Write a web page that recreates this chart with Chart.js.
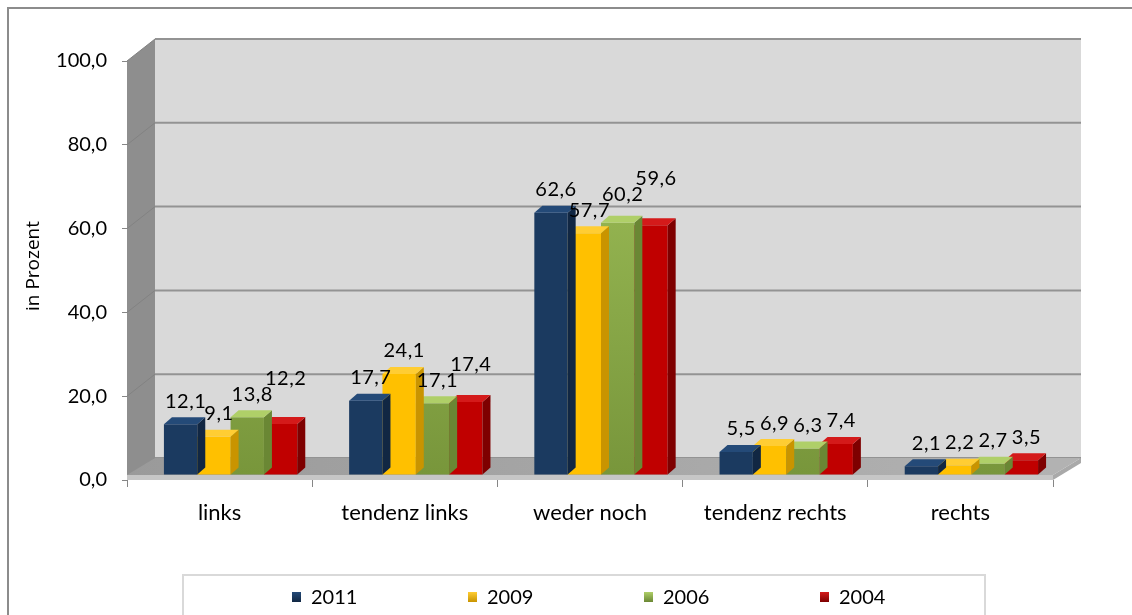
<!DOCTYPE html>
<html>
<head>
<meta charset="utf-8">
<script src="https://cdn.jsdelivr.net/npm/chart.js@4/dist/chart.umd.min.js"></script>
<style>
	html, body { margin: 0; padding: 0; background: #fff; }
	#wrap { width: 1132px; height: 615px; }
</style>
</head>
<body>
<div id="wrap"><canvas id="chart" width="1132" height="615"></canvas></div>
<script>
// Survey answers per political leaning, in percent.
const categories = ['links', 'tendenz links', 'weder noch', 'tendenz rechts', 'rechts'];
const years = ['2011', '2009', '2006', '2004'];
const values2011 = [12.1, 17.7, 62.6, 5.5, 2.1];
const values2009 = [9.1, 24.1, 57.7, 6.9, 2.2];
const values2006 = [13.8, 17.1, 60.2, 6.3, 2.7];
const values2004 = [12.2, 17.4, 59.6, 7.4, 3.5];
const yTicks = [0, 20, 40, 60, 80, 100];

// Front, side and top colours for each series.
const palette = [
	{ front: '#1b3a60', side: '#112743', top: '#244a78' },
	{ front: '#ffc000', side: '#c99400', top: '#ffcd33' },
	{ front: ['#a3c45c', '#78963b'], side: '#6a8734', top: '#afcf68' },
	{ front: '#c00000', side: '#7e0000', top: '#d41a1a' }
];

// Depth of the walls and of each bar.
const WALL_DX = 28, WALL_DY = -22;
const BAR_DX = 8, BAR_DY = -7;
// Bars sit slightly behind the front edge of the floor.
const SHIFT_X = 11, SHIFT_Y = -5;

const labelFont = '20px Lato, "Open Sans", sans-serif';
const LABEL_H = 15;

function comma(v) {
	return v.toFixed(1).replace('.', ',');
}

function frontFill(i) {
	const f = palette[i].front;
	if (!Array.isArray(f)) return f;
	return function (context) {
		const chart = context.chart;
		const area = chart.chartArea;
		if (!area) return f[0];
		const g = chart.ctx.createLinearGradient(0, area.top, 0, area.bottom);
		g.addColorStop(0, f[0]);
		g.addColorStop(1, f[1]);
		return g;
	};
}

// Walls, floor and frame behind the bars.
const scenery = {
	id: 'scenery',
	beforeDraw(chart) {
		const ctx = chart.ctx;
		const { left, right, top, bottom } = chart.chartArea;
		const yScale = chart.scales.y;
		ctx.save();
		ctx.fillStyle = '#ffffff';
		ctx.fillRect(0, 0, chart.width, chart.height);

		// Outer frame.
		ctx.strokeStyle = '#8c8c8c';
		ctx.lineWidth = 2;
		ctx.beginPath();
		ctx.moveTo(8, chart.height);
		ctx.lineTo(8, 8);
		ctx.lineTo(chart.width, 8);
		ctx.stroke();

		// Back wall.
		ctx.fillStyle = '#d9d9d9';
		ctx.fillRect(left + WALL_DX, top + WALL_DY, right - left, bottom - top);

		// Left side wall.
		ctx.fillStyle = '#8e8e8e';
		ctx.beginPath();
		ctx.moveTo(left, top);
		ctx.lineTo(left + WALL_DX, top + WALL_DY);
		ctx.lineTo(left + WALL_DX, bottom + WALL_DY);
		ctx.lineTo(left, bottom);
		ctx.closePath();
		ctx.fill();

		// Gridlines on both walls.
		yTicks.forEach(function (v) {
			const y = yScale.getPixelForValue(v);
			ctx.strokeStyle = '#939393';
			ctx.lineWidth = 2;
			ctx.beginPath();
			ctx.moveTo(left + WALL_DX, y + WALL_DY);
			ctx.lineTo(right + WALL_DX, y + WALL_DY);
			ctx.stroke();
			ctx.strokeStyle = '#828282';
			ctx.lineWidth = 1;
			ctx.beginPath();
			ctx.moveTo(left, y);
			ctx.lineTo(left + WALL_DX, y + WALL_DY);
			ctx.stroke();
		});

		// Floor slab: top, front and right faces.
		const slab = 5;
		const g = ctx.createLinearGradient(left, 0, right, 0);
		g.addColorStop(0, '#9a9a9a');
		g.addColorStop(1, '#b2b2b2');
		ctx.fillStyle = g;
		ctx.beginPath();
		ctx.moveTo(left, bottom - slab);
		ctx.lineTo(right, bottom - slab);
		ctx.lineTo(right + WALL_DX, bottom + WALL_DY);
		ctx.lineTo(left + WALL_DX, bottom + WALL_DY);
		ctx.closePath();
		ctx.fill();
		ctx.fillStyle = '#c6c6c6';
		ctx.fillRect(left, bottom - slab, right - left, slab);
		ctx.fillStyle = '#a9a9a9';
		ctx.beginPath();
		ctx.moveTo(right, bottom - slab);
		ctx.lineTo(right + WALL_DX, bottom + WALL_DY);
		ctx.lineTo(right + WALL_DX, bottom + WALL_DY + slab);
		ctx.lineTo(right, bottom);
		ctx.closePath();
		ctx.fill();
		ctx.restore();
	},
	beforeDatasetsDraw(chart) {
		chart.ctx.save();
		chart.ctx.translate(SHIFT_X, SHIFT_Y);
	},
	// Side and top faces, drawn per series so the next bar covers them.
	afterDatasetDraw(chart, args) {
		const ctx = chart.ctx;
		const colors = palette[args.index];
		args.meta.data.forEach(function (bar) {
			const x0 = bar.x - bar.width / 2;
			const x1 = bar.x + bar.width / 2;
			const yTop = bar.y;
			const yBase = bar.base;
			ctx.fillStyle = colors.side;
			ctx.beginPath();
			ctx.moveTo(x1, yTop);
			ctx.lineTo(x1 + BAR_DX, yTop + BAR_DY);
			ctx.lineTo(x1 + BAR_DX, yBase + BAR_DY);
			ctx.lineTo(x1, yBase);
			ctx.closePath();
			ctx.fill();
			ctx.fillStyle = colors.top;
			ctx.beginPath();
			ctx.moveTo(x0, yTop);
			ctx.lineTo(x0 + BAR_DX, yTop + BAR_DY);
			ctx.lineTo(x1 + BAR_DX, yTop + BAR_DY);
			ctx.lineTo(x1, yTop);
			ctx.closePath();
			ctx.fill();
		});
	},
	afterDatasetsDraw(chart) {
		chart.ctx.restore();
	},
	afterDraw(chart) {
		const ctx = chart.ctx;
		ctx.save();

		// Value labels above each bar, pushed up when they would collide
		// with a neighbour in the same category.
		ctx.fillStyle = '#000';
		ctx.font = labelFont;
		ctx.letterSpacing = '0.5px';
		ctx.textAlign = 'center';
		ctx.textBaseline = 'middle';
		const sets = chart.data.datasets;
		categories.forEach(function (cat, j) {
			const placed = [];
			sets.forEach(function (ds, i) {
				const bar = chart.getDatasetMeta(i).data[j];
				const text = comma(ds.data[j]);
				const w = ctx.measureText(text).width;
				const x = bar.x + SHIFT_X + 5;
				let y = bar.y + SHIFT_Y - 23;
				let moved = true;
				while (moved) {
					moved = false;
					placed.forEach(function (p) {
						if (Math.abs(x - p.x) < (w + p.w) / 2 - 4 && Math.abs(y - p.y) < LABEL_H) {
							y = p.y - LABEL_H - 1;
							moved = true;
						}
					});
				}
				placed.push({ x: x, y: y, w: w });
				ctx.fillText(text, x, y);
			});
		});
		ctx.letterSpacing = '0px';

		// Axis title.
		ctx.save();
		ctx.translate(34, 266);
		ctx.rotate(-Math.PI / 2);
		ctx.font = '19px "Open Sans", sans-serif';
		ctx.fillText('in Prozent', 0, 0);
		ctx.restore();

		// Legend box.
		ctx.strokeStyle = '#d9d9d9';
		ctx.lineWidth = 2;
		ctx.strokeRect(183, 575, 802, 80);
		ctx.font = labelFont;
		ctx.textAlign = 'left';
		sets.forEach(function (ds, i) {
			const x = 292 + i * 176;
			const sg = ctx.createLinearGradient(0, 592, 0, 602);
			sg.addColorStop(0, palette[i].top);
			sg.addColorStop(1, palette[i].side);
			ctx.fillStyle = sg;
			ctx.fillRect(x, 592, 9, 10);
			ctx.fillStyle = '#000';
			ctx.fillText(ds.label, x + 19, 598);
		});
		ctx.restore();
	}
};

const datasets = [values2011, values2009, values2006, values2004].map(function (values, i) {
	return {
		label: years[i],
		data: values,
		backgroundColor: frontFill(i),
		borderWidth: 0,
		categoryPercentage: 0.72,
		barPercentage: 1.0
	};
});

new Chart(document.getElementById('chart'), {
	type: 'bar',
	data: { labels: categories, datasets: datasets },
	options: {
		responsive: false,
		animation: false,
		layout: { padding: { left: 0, right: 79, top: 61, bottom: 0 } },
		plugins: {
			legend: { display: false },
			tooltip: { enabled: false }
		},
		scales: {
			x: {
				grid: { offset: true, drawOnChartArea: false, tickLength: 7, color: '#868686' },
				border: { display: false },
				ticks: { color: '#000', padding: 13, font: { family: 'Lato', size: 22 } },
				afterFit(scale) { scale.height = 135; }
			},
			y: {
				min: 0,
				max: 100,
				afterBuildTicks(scale) { scale.ticks = yTicks.map(v => ({ value: v })); },
				grid: { drawOnChartArea: false, tickLength: 5, color: '#868686' },
				border: { display: false },
				ticks: {
					color: '#000',
					padding: 15,
					font: { family: 'Lato', size: 20 },
					callback: v => comma(v)
				},
				afterFit(scale) { scale.width = 127; }
			}
		}
	},
	plugins: [scenery]
});
</script>
</body>
</html>
